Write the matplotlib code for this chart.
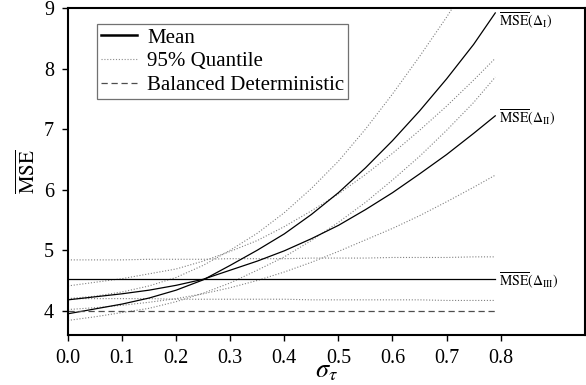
import matplotlib
matplotlib.use("Agg")
import matplotlib.pyplot as plt
from matplotlib.lines import Line2D

plt.rcParams['font.family'] = ['Liberation Serif', 'DejaVu Serif']
plt.rcParams['mathtext.fontset'] = 'stix'

# sigma_tau grid
sigma = [0.0, 0.05, 0.1, 0.15, 0.2, 0.25, 0.3, 0.35, 0.4, 0.45, 0.5, 0.55, 0.6, 0.65, 0.7, 0.75, 0.79]

# mean MSE for the three designs
mean_I = [3.95, 4.03, 4.11, 4.21, 4.34, 4.51, 4.75, 5.00, 5.27, 5.59, 5.95, 6.36, 6.81, 7.30, 7.83, 8.40, 8.92]
mean_II = [4.18, 4.23, 4.28, 4.34, 4.42, 4.52, 4.67, 4.82, 4.99, 5.19, 5.41, 5.67, 5.95, 6.26, 6.58, 6.93, 7.22]
mean_III = [4.53] * len(sigma)
balanced = [4.00] * len(sigma)

# 95% quantile bands
upper_I = [4.20, 4.24, 4.31, 4.41, 4.55, 4.75, 5.00, 5.28, 5.62, 6.02, 6.47, 7.00, 7.58, 8.20, 8.85, 9.55, 10.1]
lower_I = [3.84, 3.90, 3.97, 4.04, 4.15, 4.29, 4.46, 4.67, 4.89, 5.16, 5.46, 5.79, 6.16, 6.55, 6.98, 7.44, 7.86]
upper_II = [4.41, 4.47, 4.53, 4.61, 4.69, 4.82, 4.98, 5.16, 5.39, 5.65, 5.93, 6.25, 6.60, 6.98, 7.38, 7.81, 8.17]
lower_II = [4.02, 4.05, 4.09, 4.14, 4.20, 4.28, 4.38, 4.50, 4.64, 4.80, 4.98, 5.17, 5.36, 5.57, 5.80, 6.04, 6.24]
upper_III = [4.84, 4.84, 4.84, 4.85, 4.85, 4.85, 4.86, 4.86, 4.86, 4.87, 4.87, 4.87, 4.88, 4.88, 4.88, 4.89, 4.89]
lower_III = [4.20, 4.20, 4.20, 4.20, 4.19, 4.19, 4.19, 4.19, 4.19, 4.18, 4.18, 4.18, 4.18, 4.18, 4.17, 4.17, 4.17]

x_ticks = [0.0, 0.1, 0.2, 0.3, 0.4, 0.5, 0.6, 0.7, 0.8]
y_ticks = [4, 5, 6, 7, 8, 9]

fig = plt.figure(figsize=(5.86, 3.85), dpi=100)
ax = fig.add_axes([0.116, 0.13, 0.882, 0.849])

dot = dict(color='0.5', lw=0.8, linestyle=(0, (1, 1.6)))
for q in [upper_I, lower_I, upper_II, lower_II, upper_III, lower_III]:
    ax.plot(sigma, q, **dot)

for m in [mean_I, mean_II, mean_III]:
    ax.plot(sigma, m, color='black', lw=0.9)
ax.plot(sigma, balanced, color='0.3', lw=0.9, linestyle=(0, (5, 3)))

# curve labels
lab = dict(fontsize=10, ha='left', va='center')
ax.text(0.797, mean_I[-1] - 0.12, r'$\overline{\mathrm{MSE}}(\Delta_{\mathrm{I}})$', **lab)
ax.text(0.797, mean_II[-1] - 0.02, r'$\overline{\mathrm{MSE}}(\Delta_{\mathrm{II}})$', **lab)
ax.text(0.797, mean_III[-1] - 0.03, r'$\overline{\mathrm{MSE}}(\Delta_{\mathrm{III}})$', **lab)

ax.set_xlim(0, 0.9556)
ax.set_ylim(3.6, 9.0)
ax.set_xticks(x_ticks)
ax.set_xticklabels([f'{t:.1f}' for t in x_ticks])
ax.set_yticks(y_ticks)
ax.tick_params(labelsize=14.5, length=4, width=1, pad=6, direction='out')
for s in ax.spines.values():
    s.set_linewidth(1.5)

ax.set_xlabel(r'$\sigma_\tau$', fontsize=19, labelpad=-5)
ax.set_ylabel(r'$\overline{\mathrm{MSE}}$', fontsize=15, labelpad=3)

handles = [
    Line2D([], [], color='black', lw=1.8),
    Line2D([], [], color='0.55', lw=0.8, linestyle=(0, (1, 1.6))),
    Line2D([], [], color='0.3', lw=0.9, linestyle=(0, (5, 3))),
]
leg = ax.legend(handles, ['Mean', '95% Quantile', 'Balanced Deterministic'],
                loc='upper left', bbox_to_anchor=(0.056, 0.952), fontsize=15,
                frameon=True, fancybox=False, handlelength=1.7, handletextpad=0.5,
                labelspacing=0.2, borderpad=0.2, borderaxespad=0)
leg.get_frame().set_edgecolor('0.3')
leg.get_frame().set_linewidth(0.9)

fig.savefig('out.png', dpi=100)
